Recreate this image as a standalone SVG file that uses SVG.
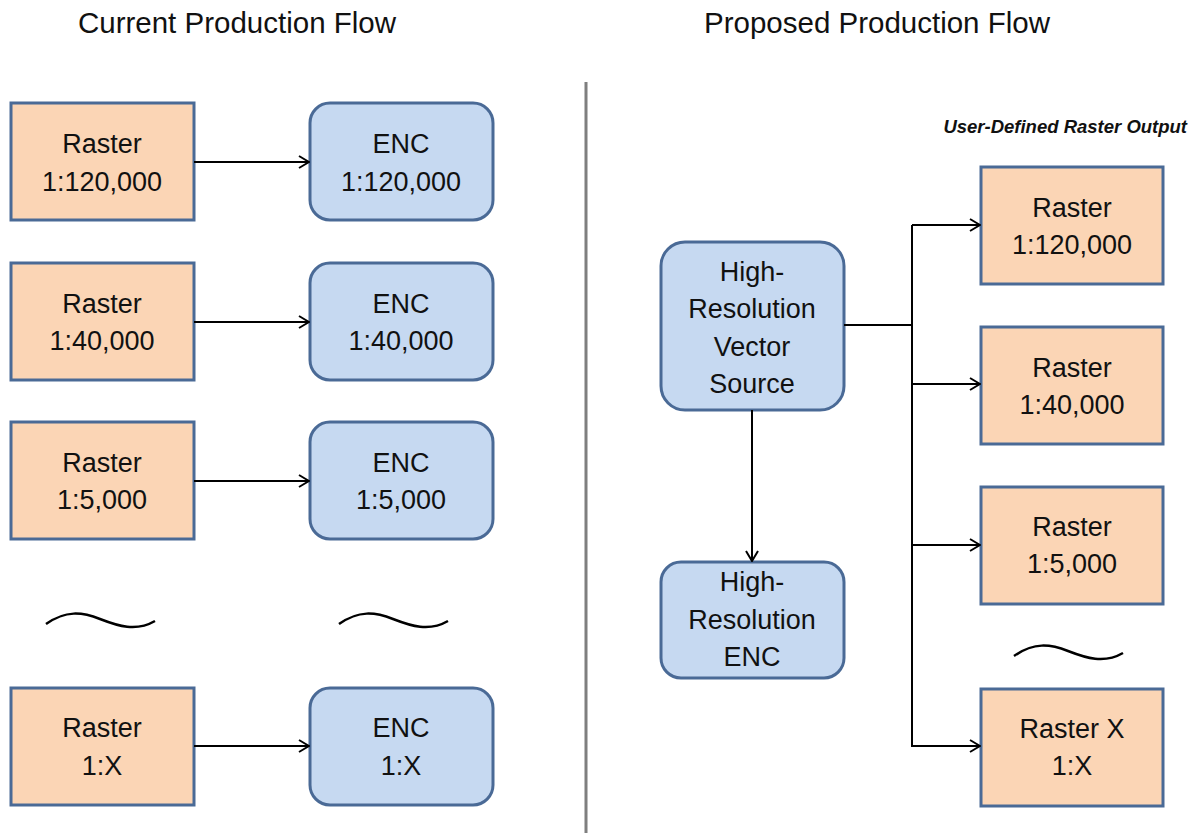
<svg xmlns="http://www.w3.org/2000/svg" width="1193" height="833" viewBox="0 0 1193 833">
  <defs>
    <style>
      .raster { fill: #FBD5B5; stroke: #4A6A96; stroke-width: 3; }
      .enc { fill: #C6D9F1; stroke: #4A6A96; stroke-width: 3; }
      .lbl { font-family: "Liberation Sans", Arial, sans-serif; font-size: 27px; fill: #111; text-anchor: middle; }
      .title { font-family: "Liberation Sans", Arial, sans-serif; font-size: 29.5px; fill: #111; text-anchor: middle; }
      .note { font-family: "Liberation Sans", Arial, sans-serif; font-size: 18.5px; font-weight: bold; font-style: italic; fill: #111; text-anchor: end; }
      .wire { fill: none; stroke: #000; stroke-width: 2; }
      .arrow { fill: none; stroke: #000; stroke-width: 2; marker-end: url(#chev); }
      .tilde { fill: none; stroke: #000; stroke-width: 2.5; }
    </style>
    <marker id="chev" viewBox="0 0 12 14" refX="11" refY="7" markerWidth="12" markerHeight="14" markerUnits="userSpaceOnUse" orient="auto">
      <path d="M1,1 L11,7 L1,13" fill="none" stroke="#000" stroke-width="2"/>
    </marker>
    <path id="wave" d="M46,624 C66,610 82,612 100,619 S136,632 155,621"/>
  </defs>

  <rect width="1193" height="833" fill="#fff"/>

  <!-- headings -->
  <text class="title" x="237" y="33">Current Production Flow</text>
  <text class="title" x="877" y="33">Proposed Production Flow</text>
  <text class="note" x="1187" y="133">User-Defined Raster Output</text>

  <!-- divider -->
  <line x1="586" y1="82" x2="586" y2="833" stroke="#7F7F7F" stroke-width="3"/>

  <!-- current flow: raster sources -->
  <g id="cur-raster-120k">
    <rect class="raster" x="11" y="103" width="183" height="117"/>
    <text class="lbl" x="102" y="153">Raster</text>
    <text class="lbl" x="102" y="191">1:120,000</text>
  </g>
  <g id="cur-raster-40k">
    <rect class="raster" x="11" y="263" width="183" height="117"/>
    <text class="lbl" x="102" y="313">Raster</text>
    <text class="lbl" x="102" y="350">1:40,000</text>
  </g>
  <g id="cur-raster-5k">
    <rect class="raster" x="11" y="422" width="183" height="117"/>
    <text class="lbl" x="102" y="472">Raster</text>
    <text class="lbl" x="102" y="509">1:5,000</text>
  </g>
  <g id="cur-raster-x">
    <rect class="raster" x="11" y="688" width="183" height="117"/>
    <text class="lbl" x="102" y="737">Raster</text>
    <text class="lbl" x="102" y="775">1:X</text>
  </g>

  <!-- current flow: ENC products -->
  <g id="cur-enc-120k">
    <rect class="enc" x="310" y="103" width="183" height="117" rx="20"/>
    <text class="lbl" x="401" y="153">ENC</text>
    <text class="lbl" x="401" y="191">1:120,000</text>
  </g>
  <g id="cur-enc-40k">
    <rect class="enc" x="310" y="263" width="183" height="117" rx="20"/>
    <text class="lbl" x="401" y="313">ENC</text>
    <text class="lbl" x="401" y="350">1:40,000</text>
  </g>
  <g id="cur-enc-5k">
    <rect class="enc" x="310" y="422" width="183" height="117" rx="20"/>
    <text class="lbl" x="401" y="472">ENC</text>
    <text class="lbl" x="401" y="509">1:5,000</text>
  </g>
  <g id="cur-enc-x">
    <rect class="enc" x="310" y="688" width="183" height="117" rx="20"/>
    <text class="lbl" x="401" y="737">ENC</text>
    <text class="lbl" x="401" y="775">1:X</text>
  </g>

  <!-- proposed flow: vector source and ENC -->
  <g id="hr-vector-source">
    <rect class="enc" x="661" y="242" width="183" height="168" rx="24"/>
    <text class="lbl" x="752" y="281">High-</text>
    <text class="lbl" x="752" y="318">Resolution</text>
    <text class="lbl" x="752" y="356">Vector</text>
    <text class="lbl" x="752" y="393">Source</text>
  </g>
  <g id="hr-enc">
    <rect class="enc" x="661" y="562" width="183" height="116" rx="20"/>
    <text class="lbl" x="752" y="591">High-</text>
    <text class="lbl" x="752" y="629">Resolution</text>
    <text class="lbl" x="752" y="666">ENC</text>
  </g>

  <!-- proposed flow: raster outputs -->
  <g id="out-raster-120k">
    <rect class="raster" x="981" y="167" width="182" height="117"/>
    <text class="lbl" x="1072" y="217">Raster</text>
    <text class="lbl" x="1072" y="254">1:120,000</text>
  </g>
  <g id="out-raster-40k">
    <rect class="raster" x="981" y="327" width="182" height="117"/>
    <text class="lbl" x="1072" y="377">Raster</text>
    <text class="lbl" x="1072" y="414">1:40,000</text>
  </g>
  <g id="out-raster-5k">
    <rect class="raster" x="981" y="487" width="182" height="117"/>
    <text class="lbl" x="1072" y="536">Raster</text>
    <text class="lbl" x="1072" y="573">1:5,000</text>
  </g>
  <g id="out-raster-x">
    <rect class="raster" x="981" y="689" width="182" height="117"/>
    <text class="lbl" x="1072" y="738">Raster X</text>
    <text class="lbl" x="1072" y="775">1:X</text>
  </g>

  <!-- connectors -->
  <g id="connectors">
    <line class="arrow" x1="194" y1="162" x2="309" y2="162"/>
    <line class="arrow" x1="194" y1="322" x2="309" y2="322"/>
    <line class="arrow" x1="194" y1="481" x2="309" y2="481"/>
    <line class="arrow" x1="194" y1="746" x2="309" y2="746"/>

    <line class="arrow" x1="752" y1="410" x2="752" y2="561"/>

    <polyline class="wire" points="844,325 912,325"/>
    <polyline class="wire" points="912,225 912,746"/>
    <line class="arrow" x1="912" y1="225" x2="980" y2="225"/>
    <line class="arrow" x1="912" y1="384" x2="980" y2="384"/>
    <line class="arrow" x1="912" y1="545" x2="980" y2="545"/>
    <line class="arrow" x1="911" y1="746" x2="980" y2="746"/>
  </g>

  <!-- continuation marks -->
  <g id="ellipses">
    <use href="#wave" class="tilde"/>
    <use href="#wave" class="tilde" transform="translate(293,0)"/>
    <use href="#wave" class="tilde" transform="translate(968,32)"/>
  </g>
</svg>
